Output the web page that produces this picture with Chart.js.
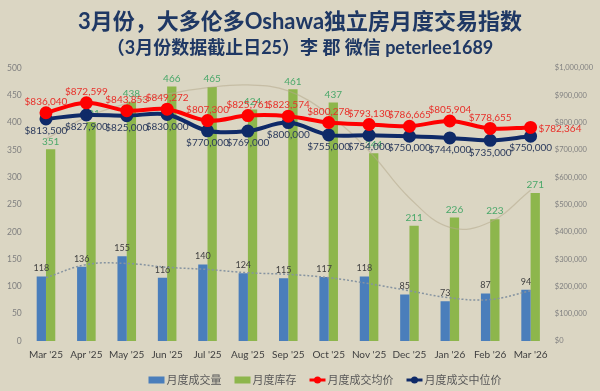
<!DOCTYPE html>
<html>
<head>
<meta charset="utf-8">
<script src="https://cdn.jsdelivr.net/npm/chart.js@4.4.1/dist/chart.umd.min.js"></script>
<style>
  html, body { margin: 0; padding: 0; background: #dbd6c3; }
  #wrap { width: 600px; height: 391px; }
</style>
</head>
<body>
<div id="wrap"><canvas id="chart"></canvas></div>
<script>
// 月份
const months = ["Mar '25", "Apr '25", "May '25", "Jun '25", "Jul '25", "Aug '25", "Sep '25",
                "Oct '25", "Nov '25", "Dec '25", "Jan '26", "Feb '26", "Mar '26"];
// 月度成交量
const volume = [118, 136, 155, 116, 140, 124, 115, 117, 118, 85, 73, 87, 94];
// 月度库存
const inventory = [351, 401, 438, 466, 465, 424, 461, 437, 344, 211, 226, 223, 271];
// 月度成交均价
const avgPrice = [836040, 872599, 843853, 849272, 807300, 825761, 823574, 800278, 793130, 786665, 805904, 778655, 782364];
// 月度成交中位价
const medianPrice = [813500, 827900, 825000, 830000, 770000, 769000, 800000, 755000, 754000, 750000, 744000, 735000, 750000];
// 趋势线
const volumeTrend = [116, 140, 142, 135, 131, 125, 122, 116, 105, 92, 79, 76, 92];
const inventoryTrend = [370, 410, 435, 452, 464, 469, 458, 415, 348, 262, 208, 218, 276];

const FONT = 'Lato, "Noto Sans CJK SC", sans-serif';
const CJK = '"Noto Sans CJK SC", Lato, sans-serif';

function money(v) {
    return '$' + v.toLocaleString('en-US');
}

// 数据标签
const valueLabels = {
    id: 'valueLabels',
    afterDatasetDraw: function (chart, args) {
        const ds = chart.data.datasets[args.index];
        const st = ds.labelStyle;
        if (!st) return;
        const ctx = chart.ctx;
        ctx.save();
        ctx.font = st.font;
        ctx.fillStyle = st.color;
        ctx.textBaseline = 'middle';
        args.meta.data.forEach(function (el, i) {
            const text = st.money ? money(ds.data[i]) : String(ds.data[i]);
            if (st.lastRight && i === ds.data.length - 1) {
                ctx.textAlign = 'left';
                ctx.fillText(text, el.x + 8, el.y + 1);
            } else {
                ctx.textAlign = 'center';
                ctx.fillText(text, el.x, el.y + st.dy);
            }
        });
        ctx.restore();
    }
};

// 图例
const bottomLegend = {
    id: 'bottomLegend',
    afterDraw: function (chart) {
        const ctx = chart.ctx;
        const items = [
            { text: '月度成交量', color: '#4a7ebb', type: 'rect' },
            { text: '月度库存', color: '#8db64c', type: 'rect' },
            { text: '月度成交均价', color: '#ff0000', type: 'line' },
            { text: '月度成交中位价', color: '#0f2a68', type: 'line' }
        ];
        ctx.save();
        ctx.font = '11px ' + CJK;
        ctx.textBaseline = 'middle';
        const markW = 16, gap = 2, space = 13;
        let total = 0;
        items.forEach(function (it) {
            it.w = ctx.measureText(it.text).width;
            total += markW + gap + it.w;
        });
        total += space * (items.length - 1);
        let x = 325 - total / 2;
        const y = 380;
        items.forEach(function (it) {
            if (it.type === 'rect') {
                ctx.fillStyle = it.color;
                ctx.fillRect(x, y - 3.5, markW, 7);
            } else {
                ctx.strokeStyle = it.color;
                ctx.lineWidth = 3;
                ctx.beginPath();
                ctx.moveTo(x, y);
                ctx.lineTo(x + markW, y);
                ctx.stroke();
                ctx.fillStyle = it.color;
                ctx.beginPath();
                ctx.arc(x + markW / 2, y, 3.5, 0, Math.PI * 2);
                ctx.fill();
            }
            ctx.fillStyle = '#595959';
            ctx.textAlign = 'left';
            ctx.fillText(it.text, x + markW + gap, y);
            x += markW + gap + it.w + space;
        });
        ctx.restore();
    }
};

new Chart(document.getElementById('chart'), {
    type: 'bar',
    data: {
        labels: months,
        datasets: [
            {
                type: 'line',
                label: '均价',
                data: avgPrice,
                yAxisID: 'y1',
                borderColor: '#ff0000',
                backgroundColor: '#ff0000',
                borderWidth: 4,
                pointRadius: 4.5,
                tension: 0.35,
                order: 0,
                labelStyle: { font: '10px ' + FONT, color: '#e8302a', dy: -11, money: true, lastRight: true }
            },
            {
                type: 'line',
                label: '中位价',
                data: medianPrice,
                yAxisID: 'y1',
                borderColor: '#0f2a68',
                backgroundColor: '#0f2a68',
                borderWidth: 4,
                pointRadius: 4.5,
                tension: 0.35,
                order: 1,
                labelStyle: { font: '10px ' + FONT, color: '#2b3a5c', dy: 12, money: true }
            },
            {
                type: 'line',
                label: 'volTrend',
                data: volumeTrend,
                yAxisID: 'y',
                borderColor: '#8593a0',
                borderWidth: 1.5,
                borderDash: [2, 2],
                pointRadius: 0,
                tension: 0.4,
                order: 2
            },
            {
                type: 'line',
                label: 'invTrend',
                data: inventoryTrend,
                yAxisID: 'y',
                borderColor: 'rgba(180,170,140,0.55)',
                borderWidth: 1.2,
                pointRadius: 0,
                tension: 0.4,
                order: 2
            },
            {
                label: '月度成交量',
                data: volume,
                yAxisID: 'y',
                backgroundColor: '#4a7ebb',
                categoryPercentage: 0.46,
                barPercentage: 1,
                order: 3,
                labelStyle: { font: '9px ' + FONT, color: '#404040', dy: -8 }
            },
            {
                label: '月度库存',
                data: inventory,
                yAxisID: 'y',
                backgroundColor: '#8db64c',
                categoryPercentage: 0.46,
                barPercentage: 1,
                order: 3,
                labelStyle: { font: '10px ' + FONT, color: '#4aa86a', dy: -8 }
            }
        ]
    },
    options: {
        responsive: true,
        maintainAspectRatio: false,
        animation: false,
        layout: { padding: { left: 3, right: 3, top: 0, bottom: 22 } },
        plugins: {
            legend: { display: false },
            tooltip: { enabled: false },
            title: {
                display: true,
                text: '3月份，大多伦多Oshawa独立房月度交易指数',
                color: '#1f3864',
                font: { family: FONT, size: 22, weight: 'bold' },
                padding: { top: 9, bottom: 0 }
            },
            subtitle: {
                display: true,
                text: '（3月份数据截止日25）李 郡 微信 peterlee1689',
                color: '#1f3864',
                font: { family: FONT, size: 18, weight: 'bold' },
                padding: { top: 2, bottom: 9 }
            }
        },
        scales: {
            x: {
                grid: { display: false, drawTicks: false },
                border: { display: false },
                ticks: { color: '#404040', font: { family: FONT, size: 10 }, maxRotation: 0, autoSkip: false, padding: 8 }
            },
            y: {
                position: 'left',
                min: 0,
                max: 500,
                grid: { display: false, drawTicks: false },
                border: { display: false },
                ticks: { stepSize: 50, color: '#808080', font: { family: FONT, size: 8.5 }, padding: 4 }
            },
            y1: {
                position: 'right',
                min: 0,
                max: 1000000,
                grid: { display: false, drawTicks: false },
                border: { display: false },
                ticks: {
                    stepSize: 100000,
                    color: '#808080',
                    font: { family: FONT, size: 7.5 },
                    padding: 4,
                    callback: function (v) { return money(v); }
                }
            }
        }
    },
    plugins: [valueLabels, bottomLegend]
});
</script>
</body>
</html>
